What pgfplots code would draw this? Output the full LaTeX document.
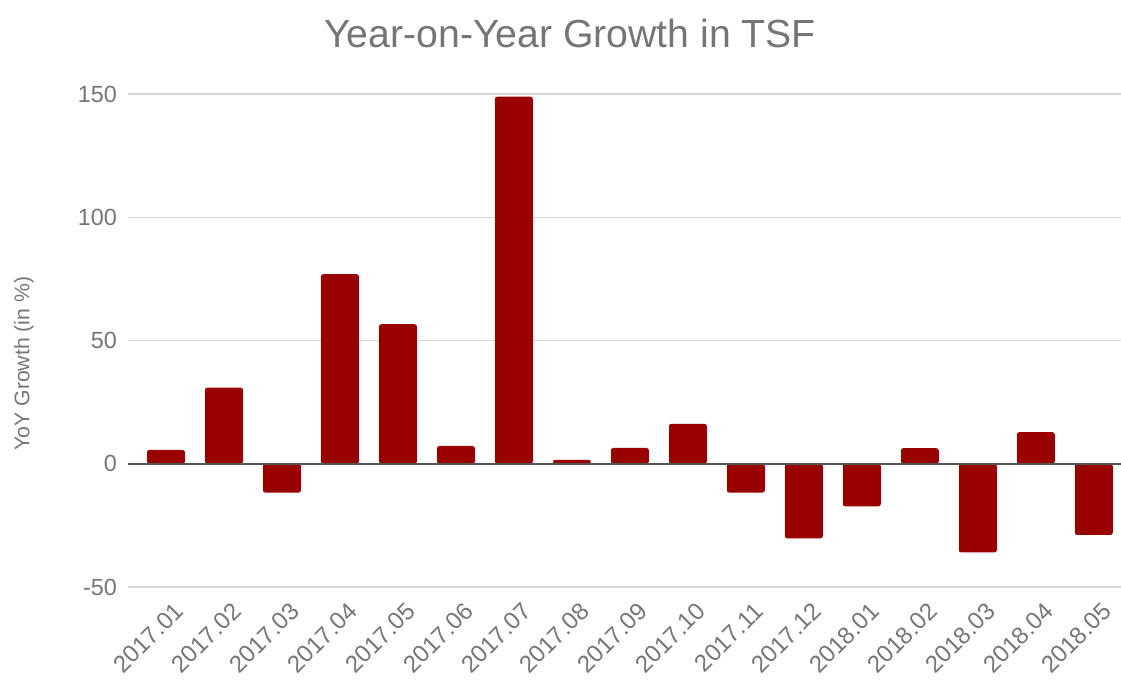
\documentclass[border=0pt]{standalone}
\usepackage{fontspec}
\setmainfont{Liberation Sans}
\usepackage{pgfplots}
\pgfplotsset{compat=1.18}
\definecolor{txt}{HTML}{757575}
\definecolor{barc}{HTML}{990000}
\definecolor{gridc}{HTML}{D6D6D6}
\definecolor{zeroc}{HTML}{555555}
\begin{document}
\begin{tikzpicture}
\useasboundingbox (0,0) rectangle (560.5pt,340pt);
\begin{axis}[
 at={(64pt,46.5pt)}, anchor=south west,
 scale only axis, width=496.5pt, height=246.5pt,
 xmin=-0.655, xmax=16.47, ymin=-50, ymax=150,
 ytick={-50,0,50,100,150},
 xtick={0,...,16},
 xticklabels={2017.01,2017.02,2017.03,2017.04,2017.05,2017.06,2017.07,2017.08,2017.09,2017.10,2017.11,2017.12,2018.01,2018.02,2018.03,2018.04,2018.05},
 ymajorgrids, grid style={gridc, line width=0.6pt},
 axis line style={draw=none}, major tick length=0pt,
 tick label style={font=\fontsize{11.7}{14}\selectfont, text=txt},
 yticklabel style={xshift=-2pt},
 xticklabel style={rotate=45, anchor=north east, font=\fontsize{12}{14}\selectfont, yshift=-4pt, xshift=1pt},
 /pgf/number format/assume math mode=true,
 every axis y label/.style={at={(axis description cs:0,0.453)}, xshift=-52pt, rotate=90, anchor=center, font=\fontsize{10.6}{13}\selectfont, text=txt},
 ylabel={YoY Growth (in \%)},
 ybar, bar width=19pt,
]
\addplot[fill=barc, draw=none, rounded corners=1.2pt] coordinates {
(0,5.6) (1,30.9) (2,-11.7) (3,76.9) (4,56.6) (5,7.2) (6,148.9) (7,1.6) (8,6.4)
(9,16.2) (10,-11.7) (11,-30.3) (12,-17.3) (13,6.3) (14,-36.0) (15,12.8) (16,-28.9)};
\draw[zeroc, line width=0.8pt] (rel axis cs:0,0.25) -- (rel axis cs:1,0.25);
\end{axis}
\node[anchor=base, text=txt, font=\fontsize{19.6}{23}\selectfont] at (285pt,316pt) {Year-on-Year Growth in TSF};
\end{tikzpicture}
\end{document}
